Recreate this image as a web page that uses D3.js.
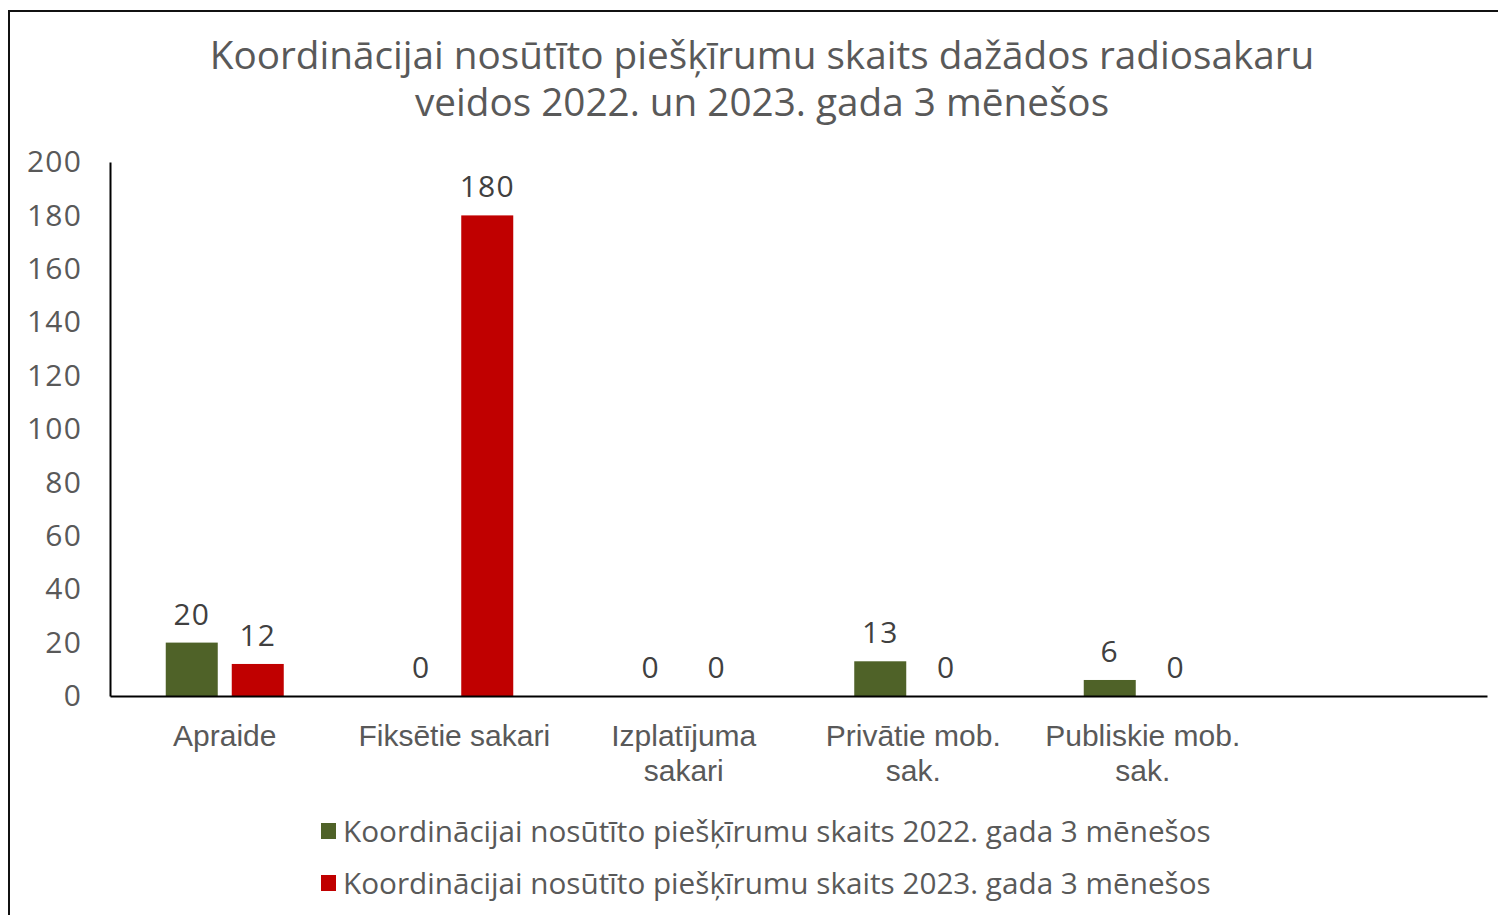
<!DOCTYPE html>
<html>
<head>
<meta charset="utf-8">
<script src="https://cdn.jsdelivr.net/npm/d3@7"></script>
<style>
  body { margin: 0; background: #fff; }
  svg { display: block; font-family: "Open Sans", sans-serif; }
</style>
</head>
<body>
<svg class="chart"></svg>
<script>
const titleLines = ["Koordinācijai nosūtīto piešķīrumu skaits dažādos radiosakaru", "veidos 2022. un 2023. gada 3 mēnešos"];
const categories = [["Apraide"], ["Fiksētie sakari"], ["Izplatījuma", "sakari"], ["Privātie mob.", "sak."], ["Publiskie mob.", "sak."], [""]];
const seriesNames = ["Koordinācijai nosūtīto piešķīrumu skaits 2022. gada 3 mēnešos", "Koordinācijai nosūtīto piešķīrumu skaits 2023. gada 3 mēnešos"];
const values2022 = [20, 0, 0, 13, 6];
const values2023 = [12, 180, 0, 0, 0];
const yTicks = [0, 20, 40, 60, 80, 100, 120, 140, 160, 180, 200];
const colors = ["#4f6228", "#c00000"];

const width = 1498, height = 915;
const margin = { top: 162, left: 110, bottom: 219, right: 11 };

const svg = d3.select(".chart")
    .attr("width", width)
    .attr("height", height);

// outer chart frame (right and bottom edges fall outside the picture)
svg.append("rect")
    .attr("x", 9).attr("y", 11)
    .attr("width", width + 20).attr("height", height + 20)
    .attr("fill", "none")
    .attr("stroke", "#111")
    .attr("stroke-width", 2);

svg.append("text")
    .attr("text-anchor", "middle")
    .attr("fill", "#595959")
    .attr("font-size", 38.7)
    .selectAll("tspan")
    .data(titleLines)
    .join("tspan")
    .attr("x", 762)
    .attr("y", (d, i) => 69 + i * 47)
    .text(d => d);

const keys = categories.map((d, i) => "c" + i);

const x0 = d3.scaleBand()
    .domain(keys)
    .range([margin.left, width - margin.right])
    .paddingInner(0);

const x1 = d3.scaleBand()
    .domain([0, 1])
    .range([x0.bandwidth() / 2 - 59, x0.bandwidth() / 2 + 59])
    .paddingInner(14 / 66);

const y = d3.scaleLinear()
    .domain([0, 200])
    .range([height - margin.bottom, margin.top]);

const rows = values2022.map((v, i) => ({ key: keys[i], vals: [v, values2023[i]] }));

const group = svg.append("g")
    .selectAll("g")
    .data(rows)
    .join("g")
    .attr("transform", d => `translate(${x0(d.key)},0)`);

group.selectAll("rect")
    .data(d => d.vals)
    .join("rect")
    .attr("x", (d, i) => x1(i))
    .attr("width", x1.bandwidth())
    .attr("y", d => y(d))
    .attr("height", d => y(0) - y(d))
    .attr("fill", (d, i) => colors[i]);

group.selectAll("text")
    .data(d => d.vals)
    .join("text")
    .attr("x", (d, i) => x1(i) + x1.bandwidth() / 2)
    .attr("y", d => y(d) - 18)
    .attr("text-anchor", "middle")
    .attr("font-size", 30)
    .attr("letter-spacing", 1.2)
    .attr("fill", "#404040")
    .text(d => d);

// y axis
const yAxis = svg.append("g")
    .attr("transform", `translate(${margin.left},0)`)
    .call(d3.axisLeft(y).tickValues(yTicks).tickSize(0).tickPadding(28));
yAxis.select(".domain").attr("stroke", "#000").attr("stroke-width", 2);
yAxis.selectAll("text")
    .attr("font-size", 30)
    .attr("letter-spacing", 1.2)
    .attr("font-family", "Open Sans")
    .attr("fill", "#595959");

// x axis - category names, some on two lines
const xAxis = svg.append("g")
    .attr("transform", `translate(0,${y(0)})`)
    .call(d3.axisBottom(x0).tickSize(0).tickFormat(""));
xAxis.select(".domain").attr("stroke", "#000").attr("stroke-width", 2);
xAxis.selectAll(".tick text").remove();
xAxis.selectAll(".tick")
    .append("text")
    .attr("text-anchor", "middle")
    .attr("font-size", 30)
    .attr("font-family", "Liberation Sans")
    .attr("fill", "#595959")
    .selectAll("tspan")
    .data((d, i) => categories[i])
    .join("tspan")
    .attr("x", 0)
    .attr("y", (d, i) => 50 + i * 35)
    .text(d => d);

// legend
const legend = svg.append("g")
    .selectAll("g")
    .data(seriesNames)
    .join("g")
    .attr("transform", (d, i) => `translate(321,${823 + i * 52})`);

legend.append("rect")
    .attr("width", 15).attr("height", 16)
    .attr("fill", (d, i) => colors[i]);

legend.append("text")
    .attr("x", 22)
    .attr("y", 19)
    .attr("font-size", 29.7)
    .attr("fill", "#595959")
    .text(d => d);
</script>
</body>
</html>
